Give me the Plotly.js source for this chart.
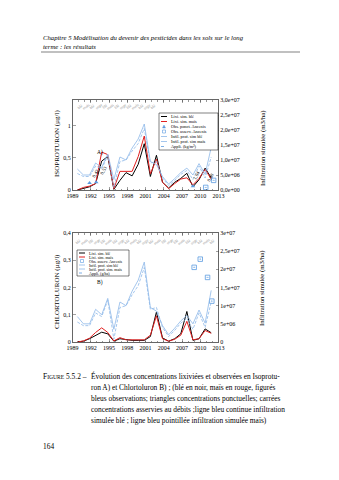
<!DOCTYPE html>
<html><head><meta charset="utf-8">
<script src="https://cdn.plot.ly/plotly-3.0.1.min.js"></script>
<style>html,body{margin:0;padding:0;background:#fff;}#g{width:339px;height:480px;}</style>
</head><body><div id="g"></div>
<script>
// ---- data ----
const years = [1989.8,1990.8,1991.8,1992.8,1993.8,1994.8,1995.8,1996.8,1997.8,1998.8,1999.8,2000.8,2001.8,2002.8,2003.8,2004.8,2005.8,2006.8,2007.8,2008.8,2009.8,2010.8,2011.8];
const isoBle  = [0,0.03,0.05,0.1,0.45,0.52,0.01,0.15,0.27,0.22,0.4,0.72,0.21,0.54,0.12,0.03,0.12,0.18,0.26,0.05,0.16,0.34,0.19];
const isoMais = [0,0.04,0.06,0.1,0.59,0.55,0.02,0.29,0.29,0.29,0.52,0.84,0.25,0.48,0.12,0.02,0.1,0.17,0.19,0.08,0.18,0.32,0.17];
const chlBle  = [0,0.003,0.012,0.025,0.036,0.03,0.003,0.012,0.008,0.006,0.006,0.006,0.02,0.11,0.015,0.003,0.012,0.03,0.112,0.006,0.012,0.048,0.034];
const chlMais = [0,0.004,0.014,0.035,0.052,0.035,0.004,0.016,0.008,0.008,0.008,0.008,0.025,0.096,0.012,0.003,0.01,0.025,0.076,0.008,0.012,0.042,0.032];
const infBle  = [7.0e6,5.0e6,5.0e6,9.0e6,7.5e6,12.0e6,3.5e6,11.0e6,10.0e6,14.0e6,17.0e6,22.0e6,9.5e6,8.5e6,4.5e6,2.0e6,3.8e6,5.8e6,7.3e6,5.0e6,8.8e6,5.2e6,14.2e6];
const infMais = [5.5e6,4.5e6,4.5e6,8.0e6,7.0e6,11.5e6,0.8e6,9.5e6,10.0e6,13.0e6,15.5e6,20.5e6,9.0e6,9.5e6,4.0e6,1.5e6,3.2e6,5.2e6,6.5e6,3.5e6,8.0e6,4.0e6,11.0e6];
const isoPonctX = [1991.8,1992.9,2008.8];
const isoPonctY = [0.11,0.12,0.06];
const isoAssX = [2010.9,2012.2];
const isoAssY = [0.04,0.15];
const chlAssX = [2009.0,2010.0,2011.2,2011.9];
const chlAssY = [0.274,0.304,0.237,0.15];
const xTickVals = [1989,1992,1995,1998,2001,2004,2007,2010,2013];
const xTickText = ['1989','1992','1995','1998','2001','2004','2007','2010','2013'];
const isoTickVals = [0,0.5,1];
const isoTickText = ['0','0,5','1'];
const chlTickVals = [0,0.1,0.2,0.3,0.4];
const chlTickText = ['0','0,1','0,2','0,3','0,4'];
const infTickVals = [0,5e6,1e7,1.5e7,2e7,2.5e7,3e7];
const infTickTextA = ['0,0e+00','5,0e+06','1,0e+07','1,5e+07','2,0e+07','2,5e+07','3,0e+07'];
const infTickTextB = ['0','5e+06','1e+07','1,5e+07','2e+07','2,5e+07','3e+07'];
const legendA = ['Lixi. sim. blé','Lixi. sim. maïs','Obs. ponct. Ancenis','Obs. asserv. Ancenis','Infil. prof. sim blé','Infil. prof. sim maïs','Appli. (kg/m²)'];
const legendB = ['Lixi. sim. blé','Lixi. sim. maïs','Obs. asserv. Ancenis','Infil. prof. sim blé','Infil. prof. sim. maïs','Appli. (g/ha)'];
const cropA = ['blé','maïs','blé','orge','blé','maïs','blé','orge','blé','maïs','blé','orge','blé'];
const cropB = ['blé','maïs','blé','orge','blé','maïs','blé','orge','blé','maïs','blé','orge','blé','maïs','blé','orge','blé','maïs','blé','orge','blé','maïs','blé'];
const captionHead = 'F<span style="font-size:5.6px">IGURE</span> 5.5.2 –';
const captionLines = [
 'Évolution des concentrations lixiviées et observées en Isoprotu-',
 'ron A) et Chlortoluron B) ; (blé en noir, maïs en rouge, figurés',
 'bleus observations; triangles concentrations ponctuelles; carrées',
 'concentrations asservies au débits ;ligne bleu continue infiltration',
 'simulée blé ; ligne bleu pointillée infiltration simulée maïs)'];

// ---- layout helpers ----
const W=339,H=480;
const PX=x=>x/W, PY=y=>1-y/H;
const FONT='Liberation Serif, Times New Roman, serif';
const BLUE='#8db7e8', OBS='#5a9be0';
const xL=72.5, xR=218.5;
const yrPx=(xR-xL)/24;
const topA=100, botA=190, topB=233, botB=342;

const traces=[
 {x:years,y:infBle,xaxis:'x',yaxis:'y2',mode:'lines',line:{color:BLUE,width:0.8}},
 {x:years,y:infMais,xaxis:'x',yaxis:'y2',mode:'lines',line:{color:BLUE,width:0.8,dash:'3px,1.5px'}},
 {x:years,y:isoBle,xaxis:'x',yaxis:'y',mode:'lines',line:{color:'#000',width:1}},
 {x:years,y:isoMais,xaxis:'x',yaxis:'y',mode:'lines',line:{color:'#e02020',width:1}},
 {x:isoPonctX,y:isoPonctY,xaxis:'x',yaxis:'y',mode:'markers',marker:{symbol:'triangle-up',color:OBS,size:4}},
 {x:isoAssX,y:isoAssY,xaxis:'x',yaxis:'y',mode:'markers',marker:{symbol:'square-open-dot',color:OBS,size:4.5,line:{width:0.8,color:OBS}}},
 {x:years,y:infBle,xaxis:'x2',yaxis:'y4',mode:'lines',line:{color:BLUE,width:0.8}},
 {x:years,y:infMais,xaxis:'x2',yaxis:'y4',mode:'lines',line:{color:BLUE,width:0.8,dash:'3px,1.5px'}},
 {x:years,y:chlBle,xaxis:'x2',yaxis:'y3',mode:'lines',line:{color:'#000',width:1}},
 {x:years,y:chlMais,xaxis:'x2',yaxis:'y3',mode:'lines',line:{color:'#e02020',width:1}},
 {x:chlAssX,y:chlAssY,xaxis:'x2',yaxis:'y3',mode:'markers',marker:{symbol:'square-open-dot',color:OBS,size:4.5,line:{width:0.8,color:OBS}}}
];

const tf={family:FONT,size:6,color:'#000'};
function xax(anchor){return {domain:[PX(xL),PX(xR)],anchor:anchor,range:[1989,2013],tickvals:xTickVals,ticktext:xTickText,
  ticks:'inside',ticklen:3,tickwidth:0.5,mirror:'ticks',showline:true,linecolor:'#000',linewidth:0.6,showgrid:false,zeroline:false,tickfont:tf,
  minor:{dtick:1,tick0:1989,ticks:'inside',ticklen:1.5,tickwidth:0.4,tickcolor:'#000'}};}
function yax(anchor,dom,range,tv,tt,extra){return Object.assign({domain:dom,anchor:anchor,range:range,tickvals:tv,ticktext:tt,ticks:'inside',ticklen:3,tickwidth:0.5,
  showline:true,linecolor:'#000',linewidth:0.6,showgrid:false,zeroline:false,tickfont:tf},extra||{});}

const layout={width:W,height:H,margin:{l:0,r:0,t:0,b:0},paper_bgcolor:'#fff',plot_bgcolor:'rgba(0,0,0,0)',showlegend:false,
 font:{family:FONT},
 xaxis:xax('y'),
 yaxis:yax('x',[PY(botA),PY(topA)],[0,1.4],isoTickVals,isoTickText),
 yaxis2:yax('x',[PY(botA),PY(topA)],[0,3e7],infTickVals,infTickTextA,{overlaying:'y',side:'right'}),
 xaxis2:xax('y3'),
 yaxis3:yax('x2',[PY(botB),PY(topB)],[0,0.4],chlTickVals,chlTickText),
 yaxis4:yax('x2',[PY(botB),PY(topB)],[0,3e7],infTickVals,infTickTextB,{overlaying:'y3',side:'right'}),
 annotations:[],shapes:[]};

const A=layout.annotations, S=layout.shapes;
function txt(x,y,t,o){A.push(Object.assign({xref:'paper',yref:'paper',x:PX(x),y:PY(y),text:t,showarrow:false,xanchor:'left',yanchor:'middle',
  font:{family:FONT,size:6,color:'#000'}},o||{}));}
// header
txt(41,37,'<i>Chapitre 5 Modélisation du devenir des pesticides dans les sols sur le long</i>',{font:{family:FONT,size:6.7,color:'#000'}});
txt(41,46,'<i>terme : les résultats</i>',{font:{family:FONT,size:6.7,color:'#000'}});
S.push({type:'line',xref:'paper',yref:'paper',x0:PX(41),x1:PX(300),y0:PY(52),y1:PY(52),line:{color:'#000',width:0.5}});
// axis titles
txt(57,143,'ISOPROTURON (µg/l)',{xanchor:'center',textangle:-90,font:{family:FONT,size:7,color:'#000'}});
txt(263,148,'Infiltration simulée (m3/ha)',{xanchor:'center',textangle:-90,font:{family:FONT,size:6.8,color:'#000'}});
txt(57,292,'CHLORTOLURON (µg/l)',{xanchor:'center',textangle:-90,font:{family:FONT,size:7,color:'#000'}});
txt(262,288,'Infiltration simulée (m3/ha)',{xanchor:'center',textangle:-90,font:{family:FONT,size:6.8,color:'#000'}});
txt(100,152,'A)',{xanchor:'center',font:{family:FONT,size:5.5,color:'#000'}});
txt(100,282,'B)',{xanchor:'center',font:{family:FONT,size:5.5,color:'#000'}});
// rotated value notes
[[96,174,'0,42'],[104,171,'0,53'],[197,176,'1,04'],[211,178,'0,98']].forEach(d=>txt(d[0],d[1],d[2],{xanchor:'center',textangle:-60,font:{family:FONT,size:4.8,color:'#000'}}));
// crop labels
cropA.forEach((c,i)=>txt(xL+(i+1.2)*yrPx,106,c,{xanchor:'center',textangle:-35,font:{family:FONT,size:4,color:'#999'}}));
cropB.forEach((c,i)=>txt(xL+(i+0.9)*yrPx,241,c,{xanchor:'center',textangle:-35,font:{family:FONT,size:4,color:'#999'}}));
// legends
function legend(x0,y0,x1,y1,names,kinds,fs){
  S.push({type:'rect',xref:'paper',yref:'paper',x0:PX(x0),x1:PX(x1),y0:PY(y1),y1:PY(y0),line:{color:'#000',width:0.5},fillcolor:'#fff'});
  const step=(y1-y0-2)/names.length;
  names.forEach((n,i)=>{
    const yy=y0+1+step*(i+0.5);
    const k=kinds[i];
    if(k.type==='line') S.push({type:'line',xref:'paper',yref:'paper',x0:PX(x0+2),x1:PX(x0+8),y0:PY(yy),y1:PY(yy),line:{color:k.color,width:k.w||0.8,dash:k.dash||'solid'}});
    else if(k.type==='sq') S.push({type:'rect',xref:'paper',yref:'paper',x0:PX(x0+3.5),x1:PX(x0+6.5),y0:PY(yy+1.5),y1:PY(yy-1.5),line:{color:OBS,width:0.6}});
    else if(k.type==='tri') S.push({type:'path',xref:'paper',yref:'paper',path:`M ${PX(x0+3.5)} ${PY(yy+1.5)} L ${PX(x0+6.5)} ${PY(yy+1.5)} L ${PX(x0+5)} ${PY(yy-1.5)} Z`,fillcolor:OBS,line:{color:OBS,width:0.4}});
    txt(x0+10,yy,n,{font:{family:FONT,size:fs,color:'#000'}});
  });
}
legend(159,113,218,150,legendA,[{type:'line',color:'#000',w:1},{type:'line',color:'#e02020',w:1},{type:'tri'},{type:'sq'},{type:'line',color:BLUE},{type:'line',color:BLUE,dash:'dash'},{type:'line',color:OBS,dash:'dot'}],4.3);
legend(77,250,129,276,legendB,[{type:'line',color:'#000',w:1},{type:'line',color:'#e02020',w:1},{type:'sq'},{type:'line',color:BLUE},{type:'line',color:BLUE,dash:'dash'},{type:'line',color:OBS,dash:'dot'}],4);
// caption
const CF={family:FONT,size:7.4,color:'#000'};
txt(41,376,captionHead,{font:CF});
const capY=[376,387,398,409,420];
captionLines.forEach((l,i)=>txt(89,capY[i],l,{font:CF}));
txt(41,446,'164',{font:CF});

Plotly.newPlot('g',traces,layout,{staticPlot:true,displayModeBar:false});
</script></body></html>
